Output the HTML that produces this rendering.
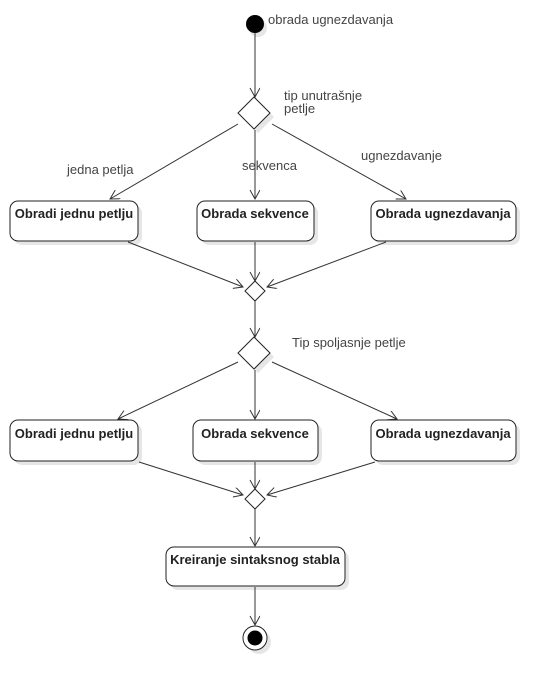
<!DOCTYPE html>
<html><head><meta charset="utf-8"><style>
body{margin:0;background:#fff;}
svg{display:block;}
.t{font-family:"Liberation Sans",sans-serif;font-size:13px;fill:#444;}
.b{font-family:"Liberation Sans",sans-serif;font-size:13px;font-weight:bold;fill:#222;}
.l{stroke:#333;stroke-width:1;fill:none;}
</style></head><body>
<svg width="553" height="691" viewBox="0 0 553 691" xmlns="http://www.w3.org/2000/svg">
<defs>
<marker id="ar" markerWidth="12" markerHeight="12" refX="10" refY="5" orient="auto" markerUnits="userSpaceOnUse">
<path d="M1,0 L10,5 L1,10" fill="none" stroke="#333" stroke-width="1"/>
</marker>
</defs>
<g fill="#e6e6e6">
<circle cx="258" cy="28" r="9"/>
<rect x="14" y="205" width="128" height="40" rx="8"/>
<rect x="201" y="205" width="117" height="40" rx="8"/>
<rect x="375" y="205" width="145" height="40" rx="8"/>
<rect x="14" y="424" width="128" height="41" rx="8"/>
<rect x="197" y="424" width="125" height="41" rx="8"/>
<rect x="375" y="424" width="145" height="41" rx="8"/>
<rect x="170" y="551" width="179" height="39" rx="8"/>
<circle cx="259" cy="642" r="12"/>
<polygon points="258,101 274,117 258,133 242,117"/>
<polygon points="258,341 274,357 258,373 242,357"/>
</g>
<circle cx="255" cy="24" r="9" fill="#000"/>
<text class="t" x="268" y="24">obrada ugnezdavanja</text>
<line class="l" x1="255" y1="33" x2="255" y2="97" marker-end="url(#ar)"/>
<polygon points="254,97 270,113 254,129 238,113" fill="#fff" stroke="#222"/>
<text class="t" x="284" y="100">tip unutrašnje</text>
<text class="t" x="284" y="113">petlje</text>
<line class="l" x1="238" y1="124" x2="110" y2="199" marker-end="url(#ar)"/>
<line class="l" x1="255" y1="130" x2="255" y2="199" marker-end="url(#ar)"/>
<line class="l" x1="272" y1="124" x2="406" y2="199" marker-end="url(#ar)"/>
<text class="t" x="67" y="174">jedna petlja</text>
<text class="t" x="242" y="170">sekvenca</text>
<text class="t" x="361" y="160">ugnezdavanje</text>
<rect x="10" y="201" width="128" height="40" rx="8" fill="#fff" stroke="#222"/>
<rect x="197" y="201" width="117" height="40" rx="8" fill="#fff" stroke="#222"/>
<rect x="371" y="201" width="145" height="40" rx="8" fill="#fff" stroke="#222"/>
<text class="b" x="74" y="218" text-anchor="middle">Obradi jednu petlju</text>
<text class="b" x="255" y="218" text-anchor="middle">Obrada sekvence</text>
<text class="b" x="443" y="218" text-anchor="middle">Obrada ugnezdavanja</text>
<line class="l" x1="128" y1="242" x2="243" y2="287" marker-end="url(#ar)"/>
<line class="l" x1="255" y1="242" x2="255" y2="281" marker-end="url(#ar)"/>
<line class="l" x1="386" y1="242" x2="267" y2="287" marker-end="url(#ar)"/>
<polygon points="255,281 265,291 255,301 245,291" fill="#fff" stroke="#222"/>
<line class="l" x1="255" y1="301" x2="255" y2="337" marker-end="url(#ar)"/>
<polygon points="254,337 270,353 254,369 238,353" fill="#fff" stroke="#222"/>
<text class="t" x="292" y="347">Tip spoljasnje petlje</text>
<line class="l" x1="238" y1="362" x2="118" y2="419" marker-end="url(#ar)"/>
<line class="l" x1="255" y1="370" x2="255" y2="419" marker-end="url(#ar)"/>
<line class="l" x1="272" y1="362" x2="397" y2="419" marker-end="url(#ar)"/>
<rect x="10" y="420" width="128" height="41" rx="8" fill="#fff" stroke="#222"/>
<rect x="193" y="420" width="125" height="41" rx="8" fill="#fff" stroke="#222"/>
<rect x="371" y="420" width="145" height="41" rx="8" fill="#fff" stroke="#222"/>
<text class="b" x="74" y="438" text-anchor="middle">Obradi jednu petlju</text>
<text class="b" x="255" y="438" text-anchor="middle">Obrada sekvence</text>
<text class="b" x="443" y="438" text-anchor="middle">Obrada ugnezdavanja</text>
<line class="l" x1="139" y1="462" x2="243" y2="495" marker-end="url(#ar)"/>
<line class="l" x1="255" y1="462" x2="255" y2="489" marker-end="url(#ar)"/>
<line class="l" x1="375" y1="462" x2="267" y2="495" marker-end="url(#ar)"/>
<polygon points="255,489 265,499 255,509 245,499" fill="#fff" stroke="#222"/>
<line class="l" x1="255" y1="509" x2="255" y2="546" marker-end="url(#ar)"/>
<rect x="166" y="547" width="179" height="39" rx="8" fill="#fff" stroke="#222"/>
<text class="b" x="255" y="564" text-anchor="middle">Kreiranje sintaksnog stabla</text>
<line class="l" x1="255" y1="587" x2="255" y2="625" marker-end="url(#ar)"/>
<circle cx="255" cy="638" r="12" fill="#fff" stroke="#222"/>
<circle cx="255" cy="638" r="7.5" fill="#000"/>
</svg>
</body></html>
